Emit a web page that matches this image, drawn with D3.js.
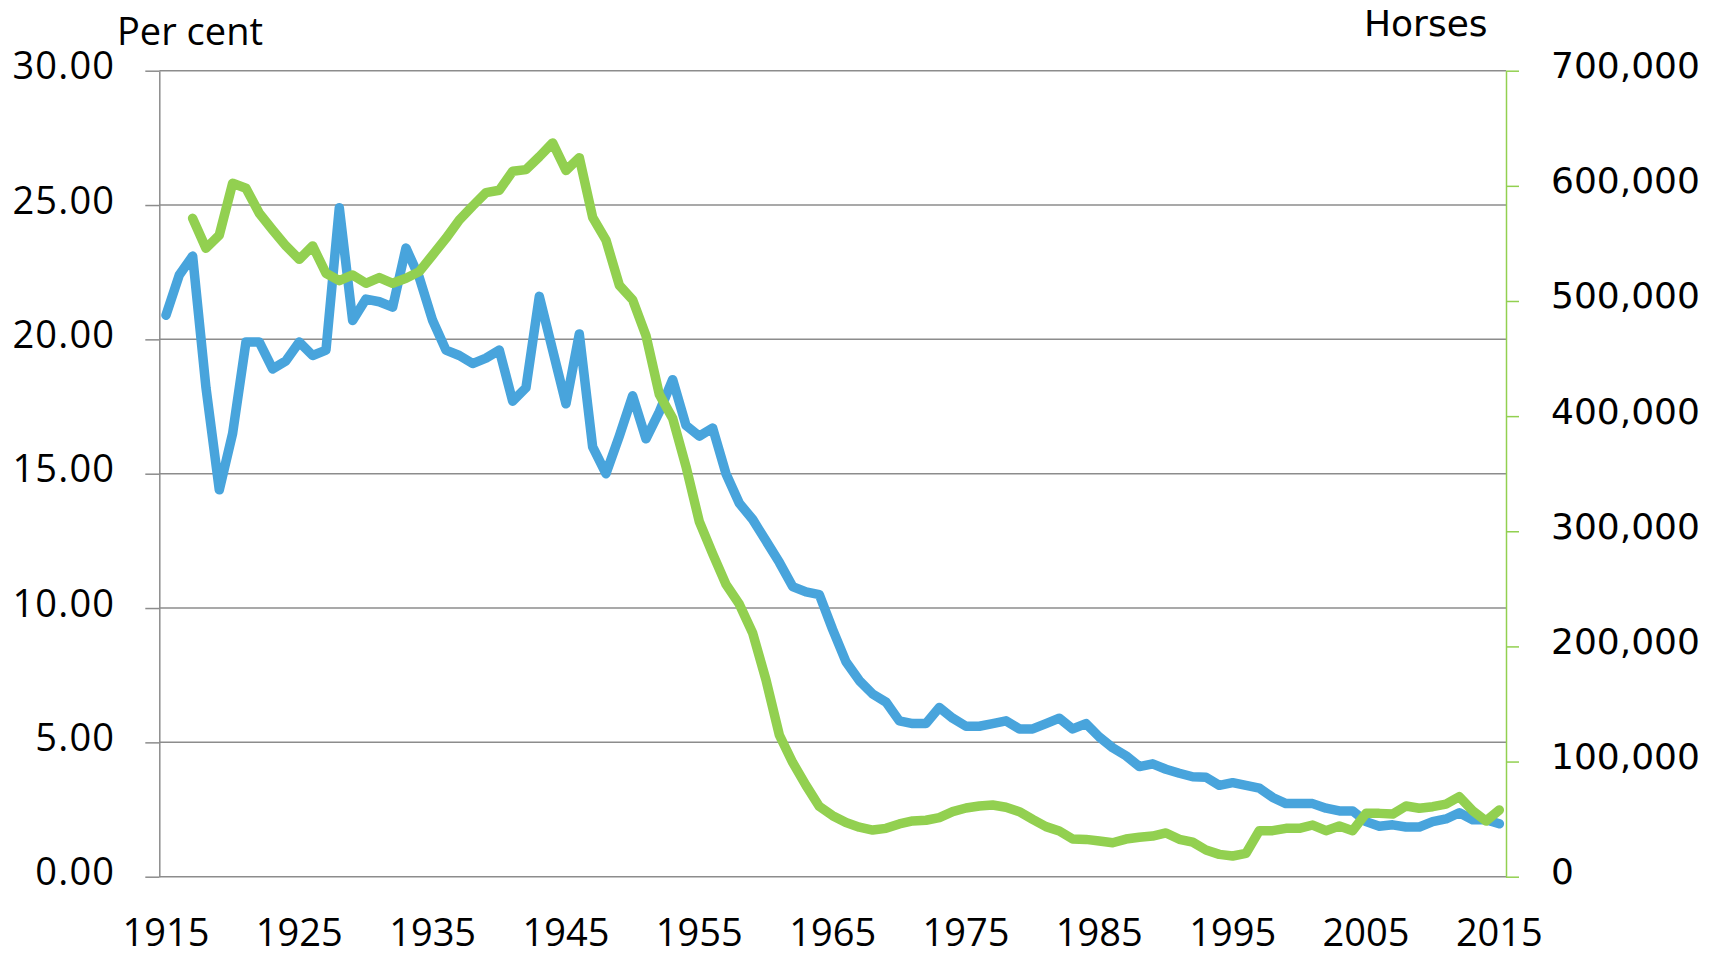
<!DOCTYPE html>
<html>
<head>
<meta charset="utf-8">
<script src="https://cdn.jsdelivr.net/npm/d3@7"></script>
<style>
  html, body { margin: 0; padding: 0; background: #fff; }
  svg { display: block; }
</style>
</head>
<body>
<svg id="chart"></svg>
<script>
// Data
const years = [
  1915, 1916, 1917, 1918, 1919, 1920, 1921, 1922, 1923, 1924,
  1925, 1926, 1927, 1928, 1929, 1930, 1931, 1932, 1933, 1934,
  1935, 1936, 1937, 1938, 1939, 1940, 1941, 1942, 1943, 1944,
  1945, 1946, 1947, 1948, 1949, 1950, 1951, 1952, 1953, 1954,
  1955, 1956, 1957, 1958, 1959, 1960, 1961, 1962, 1963, 1964,
  1965, 1966, 1967, 1968, 1969, 1970, 1971, 1972, 1973, 1974,
  1975, 1976, 1977, 1978, 1979, 1980, 1981, 1982, 1983, 1984,
  1985, 1986, 1987, 1988, 1989, 1990, 1991, 1992, 1993, 1994,
  1995, 1996, 1997, 1998, 1999, 2000, 2001, 2002, 2003, 2004,
  2005, 2006, 2007, 2008, 2009, 2010, 2011, 2012, 2013, 2014,
  2015
];

// blue series, left axis (per cent)
const perCent = [
  20.9, 22.4, 23.1, 18.2, 14.4, 16.5, 19.9, 19.9, 18.9, 19.2,
  19.9, 19.4, 19.6, 24.9, 20.7, 21.5, 21.4, 21.2, 23.4, 22.3,
  20.7, 19.6, 19.4, 19.1, 19.3, 19.6, 17.7, 18.2, 21.6, 19.6,
  17.6, 20.2, 16.0, 15.0, 16.4, 17.9, 16.3, 17.3, 18.5, 16.8,
  16.4, 16.7, 15.0, 13.9, 13.3, 12.5, 11.7, 10.8, 10.6, 10.5,
  9.2, 8.0, 7.3, 6.8, 6.5, 5.8, 5.7, 5.7, 6.3, 5.9,
  5.6, 5.6, 5.7, 5.8, 5.5, 5.5, 5.7, 5.9, 5.5, 5.7,
  5.2, 4.8, 4.5, 4.1, 4.2, 4.0, 3.85, 3.72, 3.7, 3.4,
  3.5, 3.4, 3.3, 2.95, 2.72, 2.72, 2.72, 2.55, 2.45, 2.45,
  2.05, 1.88, 1.93, 1.85, 1.85, 2.05, 2.15, 2.38, 2.12, 2.12,
  1.97
];

// green series, right axis (horses)
const horses = [
  null, null, 571800, 545800, 557300, 602200, 597900, 576200, 561700, 547800,
  536200, 547800, 524100, 517700, 522600, 515400, 520300, 515400, 519700, 525500,
  540000, 554400, 570300, 582500, 594100, 596200, 612600, 614100, 625300, 637300,
  613300, 624500, 572700, 552800, 513700, 501000, 469900, 418900, 398100, 356300,
  308400, 280500, 253900, 236700, 211600, 170900, 123100, 99200, 79300, 61000,
  53000, 47000, 43000, 40500, 42000, 45800, 48400, 49000, 51300, 56500,
  59700, 61400, 62300, 60300, 56500, 49800, 43500, 39700, 32700, 32400,
  31000, 29500, 32700, 34200, 35300, 38000, 32500, 30000, 23200, 19400,
  18000, 20300, 40000, 40000, 42000, 42000, 44900, 40000, 44000, 40000,
  55000, 55000, 54400, 61400, 59400, 60800, 63100, 69500, 57300, 48400,
  57900
];

const leftTicks  = [0, 5, 10, 15, 20, 25, 30];
const rightTicks = [0, 100000, 200000, 300000, 400000, 500000, 600000, 700000];
const xTickYears = [1915, 1925, 1935, 1945, 1955, 1965, 1975, 1985, 1995, 2005, 2015];

const leftTitle  = 'Per cent';
const rightTitle = 'Horses';

// Layout
const W = 1721, H = 953;
const plotL = 159.3, plotR = 1506, plotT = 70.7, plotB = 876.7;
const gridCol = '#8c8c8c';
const blue = '#48a4dc', green = '#92d050';

const svg = d3.select('#chart').attr('width', W).attr('height', H);

const x = d3.scaleBand().domain(years).range([plotL, plotR]).padding(0);
const yL = d3.scaleLinear().domain([0, 30]).range([plotB, plotT]);
const yR = d3.scaleLinear().domain([0, 700000]).range([plotB, plotT]);
const cx = yr => x(yr) + x.bandwidth() / 2;

// gridlines
svg.append('g')
  .selectAll('line')
  .data(leftTicks)
  .join('line')
  .attr('x1', plotL).attr('x2', plotR)
  .attr('y1', d => yL(d)).attr('y2', d => yL(d))
  .attr('stroke', gridCol).attr('stroke-width', 1.5);

// left axis
const gL = svg.append('g')
  .attr('transform', 'translate(' + plotL + ',0)')
  .call(d3.axisLeft(yL).tickValues(leftTicks).tickSize(14).tickSizeOuter(0)
    .tickPadding(30).tickFormat(d3.format('.2f')));
gL.select('.domain').attr('stroke', gridCol).attr('stroke-width', 1.5);
gL.selectAll('.tick line').attr('stroke', gridCol).attr('stroke-width', 1.5);
gL.selectAll('.tick text')
  .attr('dy', null).attr('y', 8)
  .attr('fill', '#000')
  .style('font-family', '"Open Sans", sans-serif')
  .style('font-size', '38px')
  .style('letter-spacing', '1.2px');

// right axis
const gR = svg.append('g')
  .attr('transform', 'translate(' + plotR + ',0)')
  .call(d3.axisRight(yR).tickValues(rightTicks).tickSize(13).tickSizeOuter(0)
    .tickPadding(32).tickFormat(d3.format(',')));
gR.select('.domain').attr('stroke', green).attr('stroke-width', 1.5);
gR.selectAll('.tick line').attr('stroke', green).attr('stroke-width', 1.5);
gR.selectAll('.tick text')
  .attr('dy', null).attr('y', 7)
  .attr('fill', '#000')
  .style('font-family', '"DejaVu Sans", sans-serif')
  .style('font-size', '36px');

// bottom axis labels
const gB = svg.append('g')
  .attr('transform', 'translate(0,' + plotB + ')')
  .call(d3.axisBottom(x).tickValues(xTickYears).tickSize(0).tickPadding(0));
gB.select('.domain').remove();
gB.selectAll('.tick text')
  .attr('dy', null).attr('y', 69)
  .attr('fill', '#000')
  .style('font-family', '"Open Sans", sans-serif')
  .style('font-size', '38px');

// axis titles
svg.append('text')
  .attr('x', 117).attr('y', 45)
  .style('font-family', '"Open Sans", sans-serif')
  .style('font-size', '38px')
  .text(leftTitle);

svg.append('text')
  .attr('x', 1364).attr('y', 36)
  .style('font-family', '"DejaVu Sans", sans-serif')
  .style('font-size', '36px')
  .text(rightTitle);

// lines
const lineL = d3.line()
  .defined(d => d != null)
  .x((d, i) => cx(years[i]))
  .y(d => yL(d));
const lineR = d3.line()
  .defined(d => d != null)
  .x((d, i) => cx(years[i]))
  .y(d => yR(d));

svg.append('path')
  .datum(perCent)
  .attr('d', lineL)
  .attr('fill', 'none')
  .attr('stroke', blue)
  .attr('stroke-width', 9.5)
  .attr('stroke-linejoin', 'round')
  .attr('stroke-linecap', 'round');

svg.append('path')
  .datum(horses)
  .attr('d', lineR)
  .attr('fill', 'none')
  .attr('stroke', green)
  .attr('stroke-width', 9.5)
  .attr('stroke-linejoin', 'round')
  .attr('stroke-linecap', 'round');
</script>
</body>
</html>
